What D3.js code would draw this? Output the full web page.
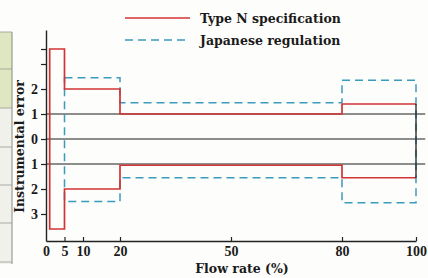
<!DOCTYPE html>
<html>
<head>
<meta charset="utf-8">
<script src="https://cdn.jsdelivr.net/npm/d3@7"></script>
<style>
  body { margin: 0; background: #fdfdfb; }
  svg { display: block; }
  text { font-family: "Liberation Serif", serif; fill: #1a1a1a; }
  .title { font-family: "DejaVu Serif", serif; font-weight: bold; }
</style>
</head>
<body>
<div id="chart"></div>
<script>
// step limits (% of flow rate vs. instrumental error %)
var typeNSteps = [1, 5, 20, 80, 100];
var typeNUpper = [3.6, 2, 1, 1.4];
var typeNLower = [-3.6, -2, -1.05, -1.55];

var japanSteps = [5, 20, 80, 100];
var japanUpper = [2.45, 1.45, 2.35];
var japanLower = [-2.5, -1.55, -2.55];

var refLines = [1, 0, -1];

var xTicks = [0, 5, 10, 20, 50, 80, 100];
var yTicks = [3.6, 3, 2, 1, 0, -1, -2, -3];
var yTickLabels = ["", "", "2", "1", "0", "1", "2", "3"];

var legendNames = ["Type N specification", "Japanese regulation"];

var W = 428, H = 278;
var svg = d3.select("#chart").append("svg").attr("width", W).attr("height", H);

// bit of the neighbouring table on the page edge
var strip = svg.append("g");
strip.append("rect").attr("x", -1).attr("y", 32).attr("width", 13).attr("height", 76)
  .attr("fill", "#dfe6c2");
strip.append("rect").attr("x", -1).attr("y", 108).attr("width", 13).attr("height", 156)
  .attr("fill", "#f1f1ec");
strip.append("line").attr("x1", 12).attr("x2", 12).attr("y1", 32).attr("y2", 264)
  .attr("stroke", "#8a8a80");
[32, 69, 108, 147, 185, 223, 262].forEach(function(yy) {
  strip.append("line").attr("x1", 0).attr("x2", 12).attr("y1", yy).attr("y2", yy)
    .attr("stroke", "#9a9a90").attr("stroke-width", 0.8);
});

var x = d3.scaleLinear().domain([0, 100]).range([46, 416]);
var y = d3.scaleLinear().domain([-4.08, 4.36]).range([241, 30]);

var line = d3.line().x((d) => { return x(d[0]); }).y((d) => { return y(d[1]); });

function envelope(steps, vals) {
  var pts = [];
  for (var i = 0; i < vals.length; ++i) {
    pts.push([steps[i], vals[i]]);
    pts.push([steps[i + 1], vals[i]]);
  }
  return pts;
}

// reference lines at 0 and +-1
svg.append("g").selectAll("line").data(refLines).join("line")
  .attr("x1", x(0)).attr("x2", x(102.5))
  .attr("y1", (d) => y(d)).attr("y2", (d) => y(d))
  .attr("stroke", "#1e1e1e").attr("stroke-width", 1.2);

// Japanese regulation: closed dashed box
var jp = envelope(japanSteps, japanUpper).concat(envelope(japanSteps, japanLower).reverse());
svg.append("path").datum(jp)
  .attr("d", (d) => line(d) + "Z")
  .attr("fill", "none").attr("stroke", "#3b9bbd").attr("stroke-width", 1.5)
  .attr("stroke-dasharray", "8,5");

// Type N specification
var tn = envelope(typeNSteps, typeNUpper).reverse().concat(envelope(typeNSteps, typeNLower));
svg.append("path").datum(tn)
  .attr("d", line)
  .attr("fill", "none").attr("stroke", "#d03434").attr("stroke-width", 1.7);

var last = typeNUpper.length - 1;
svg.append("line")
  .attr("x1", x(100)).attr("x2", x(100))
  .attr("y1", y(typeNUpper[last])).attr("y2", y(typeNLower[last]))
  .attr("stroke", "#222").attr("stroke-width", 1.3);

// axes
var xAxis = d3.axisBottom(x).tickValues(xTicks).tickSizeInner(-4).tickSizeOuter(0).tickPadding(5);
var gx = svg.append("g").attr("transform", "translate(0," + y.range()[0] + ")").call(xAxis);
gx.selectAll("text").style("font-family", "Liberation Serif").style("font-size", "14px")
  .style("font-weight", "bold").attr("fill", "#1a1a1a");
gx.select(".domain").attr("stroke", "#222").attr("stroke-width", 1.4);
gx.selectAll(".tick line").attr("stroke", "#222").attr("stroke-width", 1.2);
gx.selectAll(".tick").filter((d) => d === 0).select("line").remove();

var yAxis = d3.axisLeft(y).tickValues(yTicks).tickSize(5).tickSizeOuter(0).tickPadding(3)
  .tickFormat((d, i) => yTickLabels[i]);
var gy = svg.append("g").attr("transform", "translate(" + x(0) + ",0)").call(yAxis);
gy.selectAll("text").style("font-family", "Liberation Serif").style("font-size", "14px")
  .style("font-weight", "bold").attr("fill", "#1a1a1a");
gy.select(".domain").attr("stroke", "#222").attr("stroke-width", 1.4);
gy.selectAll(".tick line").attr("stroke", "#222").attr("stroke-width", 1.2);

// axis titles
svg.append("text").attr("class", "title")
  .attr("transform", "translate(24," + y(-0.3) + ") rotate(-90)")
  .attr("text-anchor", "middle")
  .style("font-size", "12.5px")
  .text("Instrumental error");

svg.append("text").attr("class", "title")
  .attr("x", 242).attr("y", 273)
  .attr("text-anchor", "middle")
  .style("font-size", "12.5px")
  .text("Flow rate (%)");

// legend
var legend = svg.append("g");
var legendStyles = [
  { color: "#d03434", dash: null },
  { color: "#3b9bbd", dash: "8,5" }
];
legendNames.forEach(function(name, i) {
  var ly = 18 + i * 22;
  legend.append("line")
    .attr("x1", 125).attr("x2", 190).attr("y1", ly).attr("y2", ly)
    .attr("stroke", legendStyles[i].color).attr("stroke-width", 1.5)
    .attr("stroke-dasharray", legendStyles[i].dash);
  legend.append("text").attr("class", "title")
    .attr("x", 200).attr("y", ly + 5)
    .style("font-size", "12.5px")
    .text(name);
});
</script>
</body>
</html>
